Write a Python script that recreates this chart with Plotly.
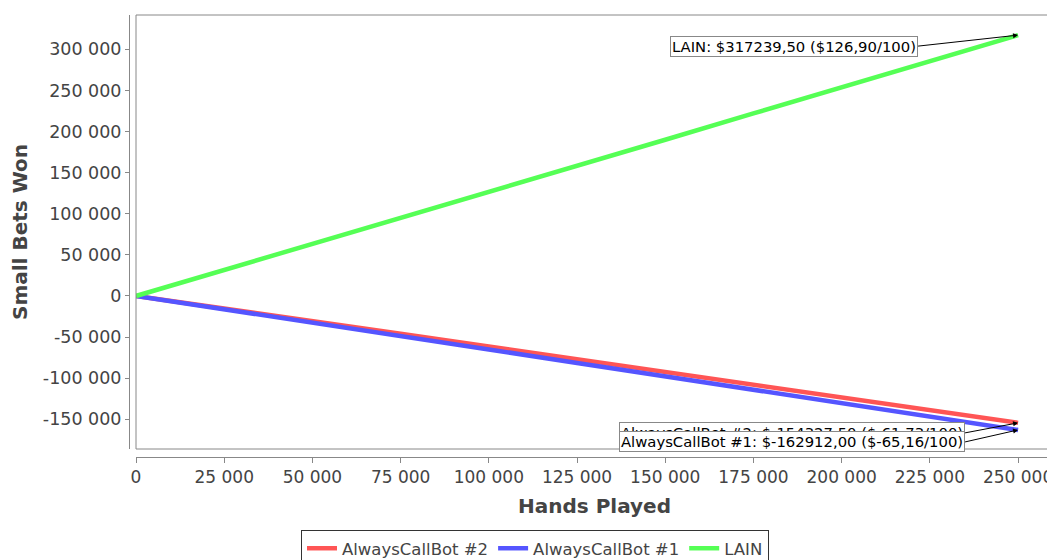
import plotly.graph_objects as go

# ---- data ----
hands = [0, 25000, 50000, 75000, 100000, 125000, 150000, 175000, 200000, 225000, 250000]
bot2_won = [0, -15000, -30500, -46000, -61500, -77000, -92500, -108500, -124000, -139000, -154327.5]
bot1_won = [0, -16000, -32500, -48500, -65000, -81500, -97500, -114000, -130500, -146500, -162912]
lain_won = [0, 31500, 63000, 95500, 127000, 158500, 190000, 222000, 254000, 285500, 317239.5]

series_names = ["AlwaysCallBot #2", "AlwaysCallBot #1", "LAIN"]
series_colors = ["#FF5555", "#5555FF", "#55FF55"]

x_ticks = [0, 25000, 50000, 75000, 100000, 125000, 150000, 175000, 200000, 225000, 250000]
x_tick_labels = ["0", "25 000", "50 000", "75 000", "100 000", "125 000", "150 000",
                 "175 000", "200 000", "225 000", "250 000"]
y_ticks = [-150000, -100000, -50000, 0, 50000, 100000, 150000, 200000, 250000, 300000]
y_tick_labels = ["-150 000", "-100 000", "-50 000", "0", "50 000", "100 000", "150 000",
                 "200 000", "250 000", "300 000"]

annot_texts = ["AlwaysCallBot #2: $-154327,50 ($-61,73/100)",
               "AlwaysCallBot #1: $-162912,00 ($-65,16/100)",
               "LAIN: $317239,50 ($126,90/100)"]

# page body has an 8px margin, so the figure is shrunk to land in the same place
W, H = 1047, 552
ML, MR, MT, MB = 121, 2, 7, 103
PW = W - ML - MR
PH = H - MT - MB
xdom0 = 7 / PW
ydom0 = 8 / PH

FONT = "DejaVu Sans"
GRAY = "#444444"
AX = "#888888"

fig = go.Figure()
for name, col, ys in zip(series_names, series_colors, [bot2_won, bot1_won, lain_won]):
    fig.add_trace(go.Scatter(x=hands, y=ys, mode="lines", name=name,
                             line=dict(color=col, width=4.5)))

# annotations with arrows pointing to end values
ann_specs = [
    (hands[-1], bot2_won[-1], annot_texts[0], -53, 10),
    (hands[-1], bot1_won[-1], annot_texts[1], -53, 12),
    (hands[-1], lain_won[-1], annot_texts[2], -100, 11),
]
for x, y, t, ax, ay in ann_specs:
    fig.add_annotation(x=x, y=y, text=t, showarrow=True, ax=ax, ay=ay,
                       xanchor="right", yanchor="middle",
                       arrowhead=2, arrowsize=1, arrowwidth=1, arrowcolor="black",
                       bgcolor="white", bordercolor="#888888", borderwidth=1, borderpad=1,
                       font=dict(family=FONT, size=14.8, color="black"))

# plot border
fig.add_shape(type="rect", xref="paper", yref="paper", x0=xdom0, x1=1, y0=ydom0, y1=1,
              line=dict(color=AX, width=1), layer="above")

fig.update_layout(
    width=W, height=H,
    margin=dict(l=ML, r=MR, t=MT, b=MB, pad=0, autoexpand=False),
    paper_bgcolor="white", plot_bgcolor="white",
    font=dict(family=FONT, color=GRAY),
    showlegend=True,
    legend=dict(orientation="h", x=(527 - ML) / PW, xanchor="center",
                y=-73 / PH, yanchor="top",
                bordercolor="#333333", borderwidth=1,
                font=dict(family=FONT, size=16.5, color=GRAY),
                tracegroupgap=0, itemwidth=30),
    xaxis=dict(domain=[xdom0, 1], anchor="free", position=0, automargin=False,
               range=[0, 259900], tickmode="array", tickvals=x_ticks, ticktext=x_tick_labels,
               showgrid=False, zeroline=False, showline=True, linecolor=AX, linewidth=1,
               ticks="outside", ticklen=5, tickcolor=AX,
               tickfont=dict(family=FONT, size=17, color=GRAY),
               title=dict(text="<b>Hands Played</b>", font=dict(family=FONT, size=20, color=GRAY),
                          standoff=12)),
    yaxis=dict(domain=[ydom0, 1], anchor="free", position=0, automargin=False,
               range=[-186100, 341700], tickmode="array", tickvals=y_ticks, ticktext=y_tick_labels,
               showgrid=False, zeroline=False, showline=True, linecolor=AX, linewidth=1,
               ticks="outside", ticklen=4, tickcolor=AX,
               tickfont=dict(family=FONT, size=17.5, color=GRAY),
               title=dict(text="<b>Small Bets Won</b>", font=dict(family=FONT, size=20, color=GRAY),
                          standoff=8)),
)

fig.write_html("out.html")
